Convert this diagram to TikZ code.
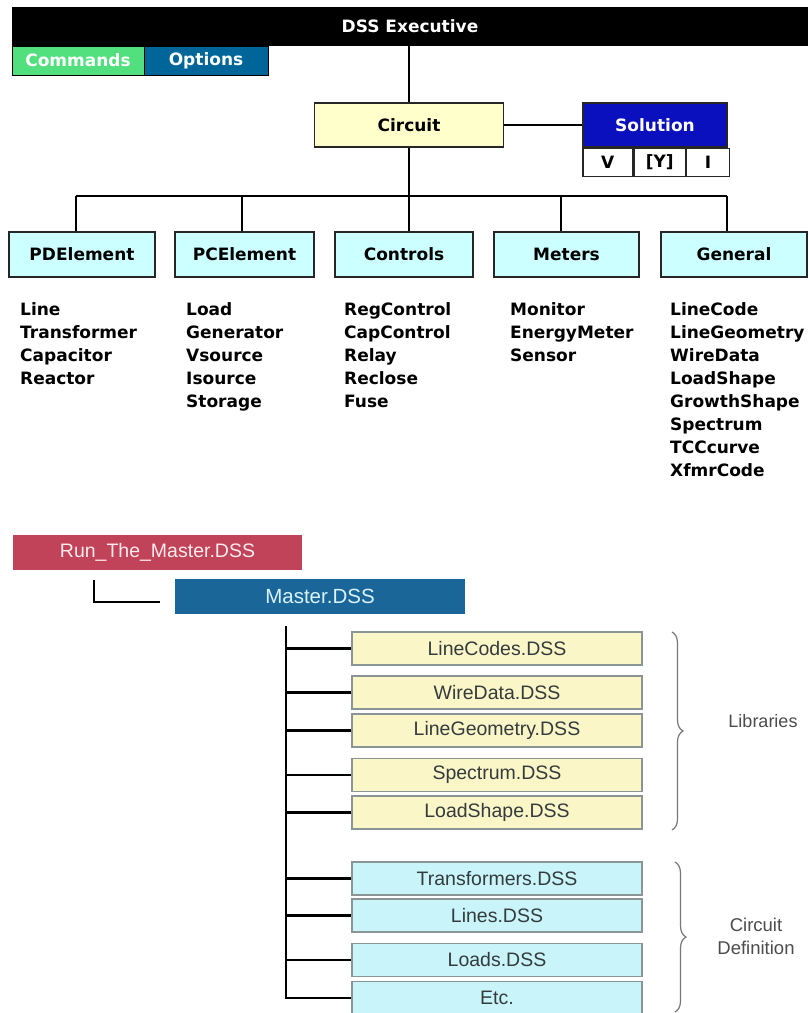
\documentclass[tikz,border=0pt]{standalone}
\usepackage{fontspec}
\setmainfont{DejaVu Sans}
\newfontfamily\arialfont{Liberation Sans}
\usetikzlibrary{decorations.pathreplacing}

\definecolor{cmdgreen}{HTML}{52E07F}
\definecolor{optblue}{HTML}{006699}
\definecolor{circyellow}{HTML}{FFFFCC}
\definecolor{solblue}{HTML}{0A10BE}
\definecolor{catcyan}{HTML}{CCFFFF}
\definecolor{runred}{HTML}{C0435A}
\definecolor{mastblue}{HTML}{1B6699}
\definecolor{libyellow}{HTML}{FBF6C8}
\definecolor{defcyan}{HTML}{C9F5FA}
\definecolor{boxgray}{HTML}{8C9596}
\definecolor{txtgray}{HTML}{333B3D}
\definecolor{bracegray}{HTML}{777777}

\tikzset{
  lbl/.style={font=\bfseries\fontsize{17}{20}\selectfont},
  topbox/.style={lbl, draw=black!85, line width=1.8pt, inner sep=0pt},
  catbox/.style={topbox, fill=catcyan, minimum width=#1, minimum height=45},
  cellbox/.style={lbl, draw=black!85, line width=1.4pt, fill=white, inner sep=0pt, minimum height=28},
  item/.style={lbl, anchor=base west, inner sep=0pt},
  wire/.style={line width=2.8pt, black},
  filebox/.style={font=\arialfont\fontsize{19.5}{22}\selectfont, text=txtgray, draw=boxgray,
    line width=1.1pt, inner sep=0pt, minimum width=290, minimum height=33},
  libbox/.style={filebox, fill=libyellow},
  defbox/.style={filebox, fill=defcyan},
  grp/.style={decorate, decoration={brace, amplitude=11pt}, draw=bracegray, line width=1.2pt},
  grplbl/.style={font=\arialfont\fontsize{18}{21}\selectfont, text=black!70, align=center}
}

\begin{document}
\begin{tikzpicture}[x=1pt, y=-1pt]
\useasboundingbox[fill=white] (0,0) rectangle (809,1013);

% ---------------- object model ----------------
\node[lbl, fill=black, text=white, minimum width=796, minimum height=39, inner sep=0pt] (exec) at (410,26.5) {DSS Executive};
\node[lbl, fill=cmdgreen, text=white, draw=black, line width=0.8pt, minimum width=132, minimum height=29, inner sep=0pt] (cmds) at (78,60.5) {Commands};
\node[lbl, fill=optblue, text=white, draw=black, line width=0.8pt, minimum width=124, minimum height=29, inner sep=0pt] (opts) at (206,60.5) {Options};

\node[topbox, fill=circyellow, minimum width=189, minimum height=44] (circ) at (409,125) {Circuit};
\node[topbox, fill=solblue, text=white, minimum width=144, minimum height=44] (sol) at (655,125) {Solution};
\node[cellbox, minimum width=50, anchor=north west] (cv) at (sol.south west) {V};
\node[cellbox, minimum width=51, anchor=north west] (cy) at (cv.north east) {[Y]};
\node[cellbox, minimum width=43, anchor=north west] (ci) at (cy.north east) {I};

\draw[wire] (circ.north) -- (circ.north |- exec.south);
\draw[wire] (circ.east) -- (sol.west);

% categories
\node[catbox=146] (pd)  at (82,254.5)  {PDElement};
\node[catbox=139] (pc)  at (244.5,254.5) {PCElement};
\node[catbox=138] (ctl) at (404,254.5) {Controls};
\node[catbox=145] (met) at (566.5,254.5) {Meters};
\node[catbox=146] (gen) at (734,254.5) {General};

% bus from Circuit to the categories
\coordinate (bpd)  at (76,196);
\coordinate (bpc)  at (242,196);
\coordinate (bctl) at (409,196);
\coordinate (bmet) at (561,196);
\coordinate (bgen) at (727,196);
\draw[wire] (circ.south) -- (bctl);
\draw[wire] (bpd) -- (bgen);
\draw[wire] (bpd)  -- (bpd  |- pd.north);
\draw[wire] (bpc)  -- (bpc  |- pc.north);
\draw[wire] (bctl) -- (bctl |- ctl.north);
\draw[wire] (bmet) -- (bmet |- met.north);
\draw[wire] (bgen) -- (bgen |- gen.north);

% class lists
\foreach \t [count=\i from 0] in {Line,Transformer,Capacitor,Reactor}
  \node[item] (pdi\i) at (20,315+23.1*\i) {\t};
\foreach \t [count=\i from 0] in {Load,Generator,Vsource,Isource,Storage}
  \node[item] (pci\i) at (186,315+23.1*\i) {\t};
\foreach \t [count=\i from 0] in {RegControl,CapControl,Relay,Reclose,Fuse}
  \node[item] (ctli\i) at (344,315+23.1*\i) {\t};
\foreach \t [count=\i from 0] in {Monitor,EnergyMeter,Sensor}
  \node[item] (meti\i) at (510,315+23.1*\i) {\t};
\foreach \t [count=\i from 0] in {LineCode,LineGeometry,WireData,LoadShape,GrowthShape,Spectrum,TCCcurve,XfmrCode}
  \node[item] (geni\i) at (670,315+23.1*\i) {\t};

% ---------------- script file tree ----------------
\node[font=\arialfont\fontsize{19.5}{22}\selectfont, text=red!8, fill=runred, inner sep=0pt,
      minimum width=289, minimum height=35] (run) at (157.5,552.5) {Run\_The\_Master.DSS};
\node[font=\arialfont\fontsize{20.5}{22}\selectfont, text=cyan!15, fill=mastblue, inner sep=0pt,
      minimum width=290, minimum height=35] (mast) at (320,596.5) {Master.DSS};

\coordinate (ltop) at (94,580);
\coordinate (lend) at (160,602);
\draw[wire] (ltop) |- (lend);

\node[libbox] (f1) at (497,648.5) {LineCodes.DSS};
\node[libbox] (f2) at (497,692.5) {WireData.DSS};
\node[libbox] (f3) at (497,730.5) {LineGeometry.DSS};
\node[libbox] (f4) at (497,775)   {Spectrum.DSS};
\node[libbox] (f5) at (497,812.5) {LoadShape.DSS};
\node[defbox] (d1) at (497,878.5) {Transformers.DSS};
\node[defbox] (d2) at (497,915.5) {Lines.DSS};
\node[defbox] (d3) at (497,960)   {Loads.DSS};
\node[defbox] (d4) at (497,998)   {Etc.};

\coordinate (trunk) at (286,626);
\draw[wire] (trunk) |- (d4.west);
\foreach \n in {f1,f2,f3,f4,f5,d1,d2,d3}
  \draw[wire] (\n.west -| trunk) -- (\n.west);

% groupings
\coordinate (lb1) at (672,632);
\coordinate (lb2) at (672,830);
\draw[grp] (lb1) -- (lb2);
\node[grplbl] (libs) at (763,721) {Libraries};

\coordinate (cb1) at (675,862);
\coordinate (cb2) at (675,1012);
\draw[grp] (cb1) -- (cb2);
\node[grplbl, font=\arialfont\fontsize{18.5}{23}\selectfont] (cdef) at (756,936) {Circuit\\Definition};
\end{tikzpicture}
\end{document}
